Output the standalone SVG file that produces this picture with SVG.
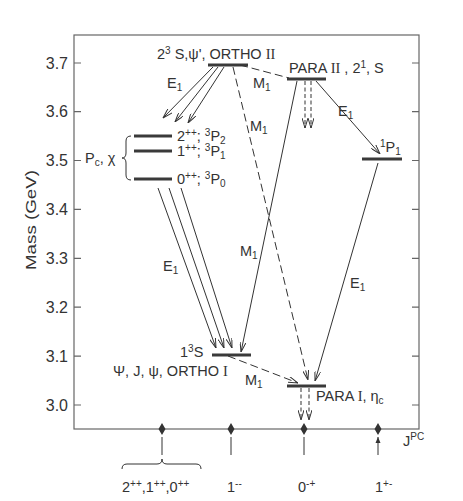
<svg xmlns="http://www.w3.org/2000/svg" width="463" height="501" viewBox="0 0 463 501">
<style>
text{font-family:"Liberation Sans",Arial,sans-serif;fill:#333;font-size:14.5px}
.tk{font-size:16px;text-anchor:end}
.rn{font-family:"Liberation Serif","Times New Roman",serif}
.s{font-size:10px}
.lvl{stroke:#3a3a3a;stroke-width:3;fill:none}
.ax{stroke:#666;stroke-width:1.2;fill:none}
.ar{stroke:#333;stroke-width:1;fill:none;marker-end:url(#ah)}
.dl{stroke:#333;stroke-width:1;fill:none;stroke-dasharray:8 4}
.da{stroke:#333;stroke-width:1;fill:none;stroke-dasharray:8 4;marker-end:url(#ah)}
.sa{stroke:#333;stroke-width:1;fill:none;stroke-dasharray:4 2.5;marker-end:url(#ah)}
</style>
<defs>
<marker id="ah" viewBox="0 0 10 6" refX="10" refY="3" markerWidth="10" markerHeight="6" markerUnits="userSpaceOnUse" orient="auto">
<path d="M0,0 L10,3 L0,6" fill="none" stroke="#333" stroke-width="1"/>
</marker>
<marker id="sh" viewBox="0 0 6 6" refX="6" refY="3" markerWidth="6" markerHeight="6" markerUnits="userSpaceOnUse" orient="auto">
<path d="M0,0.5 L6,3 L0,5.5 Z" fill="#333"/>
</marker>
</defs>
<g id="axes">
<rect class="ax" x="74" y="35" width="345" height="394"/>
<path class="ax" d="M74,63h7M74,111.6h7M74,160.5h7M74,209.4h7M74,258.3h7M74,307.2h7M74,356.1h7M74,405h7M412,63h7M412,111.6h7M412,160.5h7M412,209.4h7M412,258.3h7M412,307.2h7M412,356.1h7M412,405h7"/>
<text class="tk" x="68" y="68.5">3.7</text>
<text class="tk" x="68" y="117.1">3.6</text>
<text class="tk" x="68" y="166">3.5</text>
<text class="tk" x="68" y="214.9">3.4</text>
<text class="tk" x="68" y="263.8">3.3</text>
<text class="tk" x="68" y="312.7">3.2</text>
<text class="tk" x="68" y="361.6">3.1</text>
<text class="tk" x="68" y="410.5">3.0</text>
<text x="0" y="0" transform="translate(36,220) rotate(-90)" text-anchor="middle" style="font-size:15px" textLength="100" lengthAdjust="spacingAndGlyphs">Mass (GeV)</text>
</g>
<g id="orthoII">
<line class="lvl" x1="208" y1="65" x2="248" y2="65"/>
<text x="157" y="59">2<tspan dy="-5" class="s">3</tspan><tspan dy="5"> S,ψ', ORTHO </tspan><tspan class="rn">II</tspan></text>
</g>
<g id="paraII">
<line class="lvl" x1="287" y1="79" x2="326" y2="79"/>
<text x="289" y="73">PARA <tspan class="rn">II</tspan> , 2<tspan dy="-5" class="s">1</tspan><tspan dy="5">, S</tspan></text>
</g>
<g id="p1">
<line class="lvl" x1="362" y1="159" x2="402" y2="159"/>
<text x="380" y="152"><tspan dy="-5" class="s">1</tspan><tspan dy="5">P</tspan><tspan dy="3" class="s">1</tspan></text>
</g>
<g id="chi">
<line class="lvl" x1="134" y1="136" x2="172" y2="136"/>
<line class="lvl" x1="134" y1="151" x2="172" y2="151"/>
<line class="lvl" x1="134" y1="179" x2="172" y2="179"/>
<path d="M131,136 Q126,136 126,141 V153 Q126,158 122,158 Q126,158 126,163 V175 Q126,180 131,180" fill="none" stroke="#333" stroke-width="1"/>
<text x="85" y="163">P<tspan dy="3" class="s">c</tspan><tspan dy="-3">, χ</tspan></text>
<text x="177" y="141">2<tspan dy="-5" class="s">++</tspan><tspan dy="5">; </tspan><tspan dy="-5" class="s">3</tspan><tspan dy="5">P</tspan><tspan dy="3" class="s">2</tspan></text>
<text x="177" y="156">1<tspan dy="-5" class="s">++</tspan><tspan dy="5">; </tspan><tspan dy="-5" class="s">3</tspan><tspan dy="5">P</tspan><tspan dy="3" class="s">1</tspan></text>
<text x="177" y="184">0<tspan dy="-5" class="s">++</tspan><tspan dy="5">; </tspan><tspan dy="-5" class="s">3</tspan><tspan dy="5">P</tspan><tspan dy="3" class="s">0</tspan></text>
</g>
<g id="orthoI">
<line class="lvl" x1="212" y1="355" x2="251" y2="355"/>
<text x="180" y="357">1<tspan dy="-5" class="s">3</tspan><tspan dy="5">S</tspan></text>
<text x="113" y="376">Ψ, J, ψ, ORTHO <tspan class="rn">I</tspan></text>
</g>
<g id="paraI">
<line class="lvl" x1="287" y1="386" x2="326" y2="386"/>
<text x="316" y="401">PARA <tspan class="rn">I</tspan>, η<tspan dy="3" class="s">c</tspan></text>
</g>
<g id="connectors">
<line class="ar" x1="213" y1="67" x2="163" y2="118"/>
<line class="ar" x1="218" y1="67" x2="175" y2="122"/>
<line class="ar" x1="224" y1="67" x2="188" y2="123"/>
<line class="dl" x1="240" y1="65" x2="289" y2="78"/>
<line class="da" x1="233" y1="67" x2="308" y2="380"/>
<line class="sa" x1="305" y1="81" x2="305" y2="128"/>
<line class="sa" x1="311" y1="81" x2="311" y2="128"/>
<line class="ar" x1="316" y1="81" x2="380" y2="154"/>
<line class="ar" x1="297" y1="81" x2="241" y2="352"/>
<line class="ar" x1="158" y1="188" x2="216" y2="348"/>
<line class="ar" x1="169" y1="188" x2="224" y2="348"/>
<line class="ar" x1="181" y1="188" x2="232" y2="348"/>
<line class="ar" x1="378" y1="163" x2="315" y2="381"/>
<line class="da" x1="228" y1="356" x2="298" y2="383"/>
<line class="sa" x1="301" y1="388" x2="301" y2="420"/>
<line class="sa" x1="309" y1="388" x2="309" y2="420"/>
<text x="167" y="88">E<tspan dy="3" class="s">1</tspan></text>
<text x="253" y="88">M<tspan dy="3" class="s">1</tspan></text>
<text x="250" y="131">M<tspan dy="3" class="s">1</tspan></text>
<text x="338" y="116">E<tspan dy="3" class="s">1</tspan></text>
<text x="163" y="271">E<tspan dy="3" class="s">1</tspan></text>
<text x="240" y="256">M<tspan dy="3" class="s">1</tspan></text>
<text x="350" y="288">E<tspan dy="3" class="s">1</tspan></text>
<text x="245" y="385">M<tspan dy="3" class="s">1</tspan></text>
</g>
<g id="jpc">
<path d="M162,423 l3.5,6 l-3.5,6 l-3.5,-6Z M231,423 l3.5,6 l-3.5,6 l-3.5,-6Z M304,423 l3.5,6 l-3.5,6 l-3.5,-6Z M378,423 l3.5,6 l-3.5,6 l-3.5,-6Z" fill="#333"/>
<path d="M162,455V437M231,455V437M304,455V437M378,455V437" stroke="#333" stroke-width="1" fill="none" marker-end="url(#sh)"/>
<path d="M122,469 Q122,464 127,464 H157 Q162,464 162,459 Q162,464 167,464 H196 Q201,464 201,469" fill="none" stroke="#333" stroke-width="1"/>
<text x="122" y="492">2<tspan dy="-5" class="s">++</tspan><tspan dy="5">,1</tspan><tspan dy="-5" class="s">++</tspan><tspan dy="5">,0</tspan><tspan dy="-5" class="s">++</tspan></text>
<text x="227" y="492">1<tspan dy="-5" class="s">--</tspan></text>
<text x="298" y="492">0<tspan dy="-5" class="s">-+</tspan></text>
<text x="375" y="492">1<tspan dy="-5" class="s">+-</tspan></text>
<text x="403" y="446">J<tspan dy="-6" class="s">PC</tspan></text>
</g>
</svg>
